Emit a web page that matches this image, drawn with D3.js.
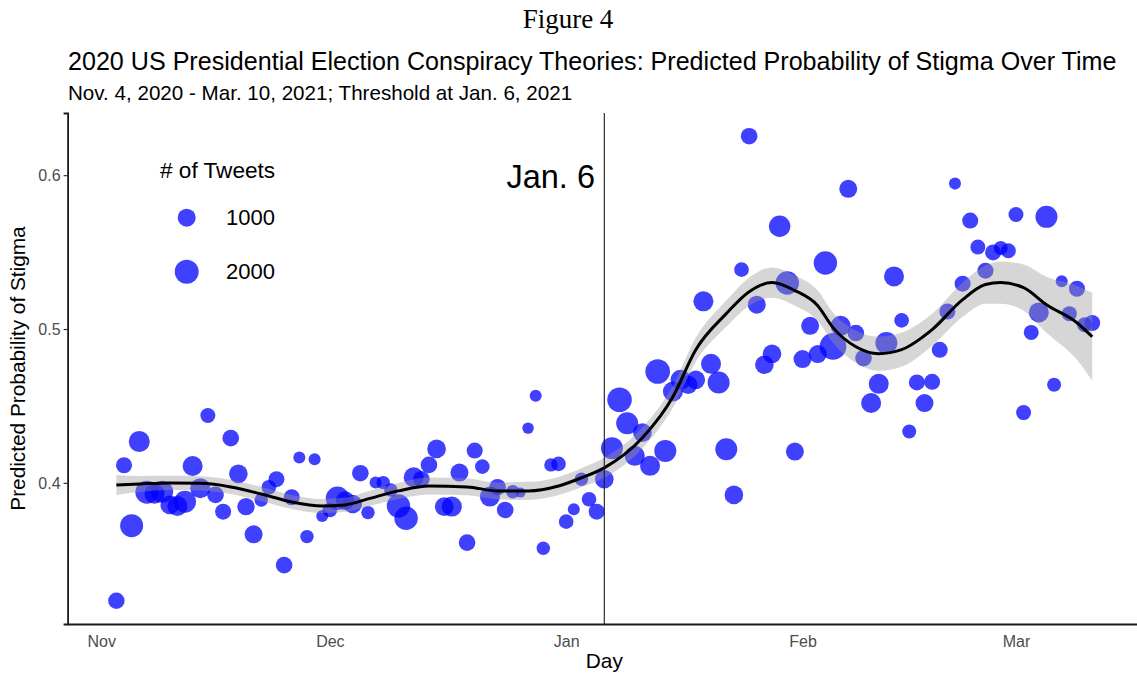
<!DOCTYPE html>
<html><head><meta charset="utf-8">
<script src="https://cdn.jsdelivr.net/npm/d3@7"></script>
<style>html,body{margin:0;padding:0;background:#fff} svg{display:block}</style>
</head><body>
<svg id="chart" width="1137" height="673"></svg>
<script>
// ---------- DATA ----------
const dates = [
"2020-11-03","2020-11-04","2020-11-05","2020-11-06","2020-11-07","2020-11-08","2020-11-09","2020-11-10","2020-11-11","2020-11-12",
"2020-11-13","2020-11-14","2020-11-15","2020-11-16","2020-11-17","2020-11-18","2020-11-19","2020-11-20","2020-11-21","2020-11-22",
"2020-11-23","2020-11-24","2020-11-25","2020-11-26","2020-11-27","2020-11-28","2020-11-29","2020-11-30",
"2020-12-01","2020-12-02","2020-12-03","2020-12-04","2020-12-05","2020-12-06","2020-12-07","2020-12-08","2020-12-09","2020-12-10",
"2020-12-11","2020-12-12","2020-12-13","2020-12-14","2020-12-15","2020-12-16","2020-12-17","2020-12-18","2020-12-19","2020-12-20",
"2020-12-21","2020-12-22","2020-12-23","2020-12-24","2020-12-25","2020-12-26","2020-12-27","2020-12-28","2020-12-29","2020-12-30","2020-12-31",
"2021-01-01","2021-01-02","2021-01-03","2021-01-04","2021-01-05","2021-01-06","2021-01-07","2021-01-08","2021-01-09","2021-01-10",
"2021-01-11","2021-01-12","2021-01-13","2021-01-14","2021-01-15","2021-01-16","2021-01-17","2021-01-18","2021-01-19","2021-01-20",
"2021-01-21","2021-01-22","2021-01-23","2021-01-24","2021-01-25","2021-01-26","2021-01-27","2021-01-28","2021-01-29","2021-01-30","2021-01-31",
"2021-02-01","2021-02-02","2021-02-03","2021-02-04","2021-02-05","2021-02-06","2021-02-07","2021-02-08","2021-02-09","2021-02-10",
"2021-02-11","2021-02-12","2021-02-13","2021-02-14","2021-02-15","2021-02-16","2021-02-17","2021-02-18","2021-02-19","2021-02-20",
"2021-02-21","2021-02-22","2021-02-23","2021-02-24","2021-02-25","2021-02-26","2021-02-27","2021-02-28",
"2021-03-01","2021-03-02","2021-03-03","2021-03-04","2021-03-05","2021-03-06","2021-03-07","2021-03-08","2021-03-09","2021-03-10","2021-03-11"
];
const stigma = [
0.3234,0.4115,0.3722,0.4269,0.3940,0.3930,0.3943,0.3857,0.3850,0.3878,
0.4110,0.3966,0.4438,0.3922,0.3813,0.4291,0.4059,0.3846,0.3666,0.3889,
0.3972,0.4024,0.3466,0.3907,0.4165,0.3651,0.4154,0.3785,
0.3824,0.3900,0.3885,0.3863,0.4063,0.3807,0.4002,0.4002,0.3954,0.3850,
0.3770,0.4037,0.4024,0.4117,0.4221,0.3846,0.3846,0.4067,0.3612,0.4210,
0.4106,0.3911,0.3972,0.3824,0.3943,0.3937,0.4356,0.4566,0.3575,0.4117,0.4124,
0.3748,0.3829,0.4024,0.3894,0.3813,0.4024,0.4226,0.4540,0.4388,0.4176,
0.4327,0.4111,0.4724,0.4208,0.4594,0.4670,0.4638,0.4670,0.5180,0.4774,
0.4653,0.4219,0.3922,0.5386,0.6253,0.5158,0.4768,0.4839,0.5668,0.5299,0.4204,
0.4805,0.5021,0.4837,0.5429,0.4887,0.5021,0.5911,0.4974,0.4811,0.4519,
0.4644,0.4909,0.5342,0.5056,0.4334,0.4653,0.4519,0.4657,0.4865,0.5114,
0.5945,0.5295,0.5705,0.5533,0.5379,0.5498,0.5527,0.5509,
0.5744,0.4457,0.4978,0.5108,0.5729,0.4638,0.5310,0.5100,0.5262,0.5028,0.5039
];
const tweets = [
800,750,1810,1460,1810,1300,1630,1090,1300,1630,
1300,1300,630,820,745,820,1090,920,1000,470,
590,745,820,745,345,470,345,345,
590,1890,1090,1090,820,470,345,470,470,1890,
1890,1300,820,820,1090,1090,1300,1000,820,745,
590,1300,820,820,470,200,300,345,470,470,590,
590,345,470,590,745,1090,1630,2120,1630,1300,
1090,1300,2120,1630,1300,1300,1090,1090,1300,1300,
1630,1630,1090,590,820,1000,1090,1090,1530,1890,1000,
1000,1000,1000,1890,2540,1300,1000,820,820,1300,
1300,1630,1300,590,525,745,1000,745,745,745,
345,745,745,630,745,745,525,630,
630,630,630,1300,1630,525,345,630,745,630,745
];
// loess smooth (fit and half-width of the band)
const smoothDates = [
"2020-11-03","2020-11-06","2020-11-10","2020-11-14","2020-11-18","2020-11-22","2020-11-26","2020-11-30",
"2020-12-03","2020-12-06","2020-12-10","2020-12-14","2020-12-19","2020-12-23","2020-12-27","2020-12-31",
"2021-01-03","2021-01-06","2021-01-11","2021-01-15","2021-01-18","2021-01-22","2021-01-25","2021-01-28","2021-01-31",
"2021-02-03","2021-02-05","2021-02-08","2021-02-11","2021-02-14","2021-02-18","2021-02-22","2021-02-25","2021-02-27",
"2021-03-02","2021-03-05","2021-03-09","2021-03-11"
];
const smoothFit = [
0.3987,0.3993,0.4000,0.3997,0.3974,0.3928,0.3876,0.3850,
0.3857,0.3896,0.3948,0.3980,0.3974,0.3948,0.3948,0.3980,
0.4033,0.4098,0.4293,0.4560,0.4866,0.5100,0.5243,0.5302,0.5250,
0.5152,0.5009,0.4885,0.4840,0.4866,0.4996,0.5191,0.5289,0.5302,
0.5269,0.5158,0.5041,0.4950
];
const smoothSE = [
0.0065,0.0052,0.0046,0.0046,0.0046,0.0046,0.0046,0.0046,
0.0046,0.0049,0.0052,0.0055,0.0055,0.0055,0.0059,0.0059,
0.0062,0.0065,0.0068,0.0072,0.0078,0.0085,0.0091,0.0098,0.0098,
0.0098,0.0098,0.0104,0.0111,0.0111,0.0104,0.0111,0.0124,0.0137,
0.0150,0.0182,0.0241,0.0286
];
const yTicks = [0.4, 0.5, 0.6];
const legendCounts = [1000, 2000];
const thresholdDate = "2021-01-06";
const texts = {
  figure: "Figure 4",
  title: "2020 US Presidential Election Conspiracy Theories: Predicted Probability of Stigma Over Time",
  subtitle: "Nov. 4, 2020 - Mar. 10, 2021; Threshold at Jan. 6, 2021",
  xTitle: "Day",
  yTitle: "Predicted Probability of Stigma",
  legendTitle: "# of Tweets",
  annotation: "Jan. 6"
};

// ---------- CHART ----------
const parse = d3.utcParse("%Y-%m-%d");
const pts = dates.map((d, i) => ({date: parse(d), v: stigma[i], n: tweets[i]}));
const sm = smoothDates.map((d, i) => ({date: parse(d), fit: smoothFit[i], se: smoothSE[i]}));

const svg = d3.select("#chart");
const plot = {left: 67.6, right: 1141, top: 113, bottom: 624};
const sans = "'Liberation Sans', Arial, Helvetica, sans-serif";

function expand(ext, f) { const s = ext[1] - ext[0]; return [ext[0] - s * f, ext[1] + s * f]; }
const xExt = d3.extent(pts, d => d.date);
const xSpan = xExt[1] - xExt[0];
const x = d3.scaleUtc()
  .domain([new Date(+xExt[0] - xSpan * 0.05), new Date(+xExt[1] + xSpan * 0.05)])
  .range([plot.left, plot.right]);
const y = d3.scaleLinear()
  .domain(expand(d3.extent(pts, d => d.v), 0.05))
  .range([plot.bottom, plot.top]);
const rSqrt = d3.scaleSqrt().domain([0, 3000]).range([0, 12.55]);
const r = n => 1.75 + rSqrt(n);

svg.append("defs").append("clipPath").attr("id", "pclip")
  .append("rect").attr("x", plot.left).attr("y", plot.top)
  .attr("width", plot.right - plot.left).attr("height", plot.bottom - plot.top);

const g = svg.append("g").attr("clip-path", "url(#pclip)");

// points
g.append("g").selectAll("circle").data(pts).join("circle")
  .attr("cx", d => x(d.date)).attr("cy", d => y(d.v)).attr("r", d => r(d.n))
  .attr("fill", "#0000ff").attr("fill-opacity", 0.75);

// ribbon
const area = d3.area().x(d => x(d.date)).y0(d => y(d.fit - d.se)).y1(d => y(d.fit + d.se))
  .curve(d3.curveMonotoneX);
g.append("path").datum(sm).attr("d", area).attr("fill", "#999999").attr("fill-opacity", 0.4);

// smooth line
const line = d3.line().x(d => x(d.date)).y(d => y(d.fit)).curve(d3.curveMonotoneX);
g.append("path").datum(sm).attr("d", line).attr("fill", "none")
  .attr("stroke", "#000").attr("stroke-width", 3).attr("stroke-linejoin", "round");

// threshold line
const tx = x(parse(thresholdDate));
svg.append("line").attr("x1", tx).attr("x2", tx).attr("y1", plot.top).attr("y2", plot.bottom)
  .attr("stroke", "#1a1a1a").attr("stroke-width", 1.1);

// annotation
svg.append("text").attr("x", 595).attr("y", 188).attr("text-anchor", "end")
  .attr("font-family", sans).attr("font-size", 32.5).attr("fill", "#000").text(texts.annotation);

// axes
const xAxis = d3.axisBottom(x)
  .tickValues(d3.utcMonth.range(x.domain()[0], x.domain()[1]))
  .tickFormat(d3.utcFormat("%b")).tickSize(0).tickPadding(12);
const gx = svg.append("g").attr("transform", `translate(0,${plot.bottom})`).call(xAxis);
gx.select(".domain").attr("stroke", "#1a1a1a").attr("stroke-width", 1.8);
gx.selectAll("text").attr("font-family", sans).attr("font-size", 16).attr("fill", "#4d4d4d");

const yAxis = d3.axisLeft(y).tickValues(yTicks).tickFormat(d3.format(".1f")).tickSize(4).tickPadding(3);
const gy = svg.append("g").attr("transform", `translate(${plot.left},0)`).call(yAxis);
gy.select(".domain").attr("stroke", "#1a1a1a").attr("stroke-width", 1.8);
gy.selectAll(".tick line").attr("stroke", "#333").attr("stroke-width", 1.2);
gy.selectAll("text").attr("font-family", sans).attr("font-size", 16).attr("fill", "#4d4d4d");

// titles
svg.append("text").attr("x", 568).attr("y", 28).attr("text-anchor", "middle")
  .attr("font-family", "'Liberation Serif', 'Times New Roman', serif").attr("font-size", 27)
  .attr("fill", "#000").text(texts.figure);
svg.append("text").attr("x", 68).attr("y", 70)
  .attr("font-family", sans).attr("font-size", 25.1).attr("fill", "#000").text(texts.title);
svg.append("text").attr("x", 68).attr("y", 100)
  .attr("font-family", sans).attr("font-size", 20.6).attr("fill", "#000").text(texts.subtitle);
svg.append("text").attr("x", (plot.left + plot.right) / 2).attr("y", 668).attr("text-anchor", "middle")
  .attr("font-family", sans).attr("font-size", 20.8).attr("fill", "#000").text(texts.xTitle);
svg.append("text").attr("transform", `translate(25,${(plot.top + plot.bottom) / 2}) rotate(-90)`)
  .attr("text-anchor", "middle")
  .attr("font-family", sans).attr("font-size", 20.8).attr("fill", "#000").text(texts.yTitle);

// legend
const lg = svg.append("g");
lg.append("text").attr("x", 160).attr("y", 178).attr("font-family", sans).attr("font-size", 22.6)
  .attr("fill", "#000").text(texts.legendTitle);
const legY = [217.7, 271.7];
legendCounts.forEach((c, i) => {
  lg.append("circle").attr("cx", 186.7).attr("cy", legY[i]).attr("r", r(c))
    .attr("fill", "#0000ff").attr("fill-opacity", 0.75);
  lg.append("text").attr("x", 226).attr("y", legY[i]).attr("dy", "0.35em")
    .attr("font-family", sans).attr("font-size", 22).attr("fill", "#000").text(c);
});
</script>
</body></html>
